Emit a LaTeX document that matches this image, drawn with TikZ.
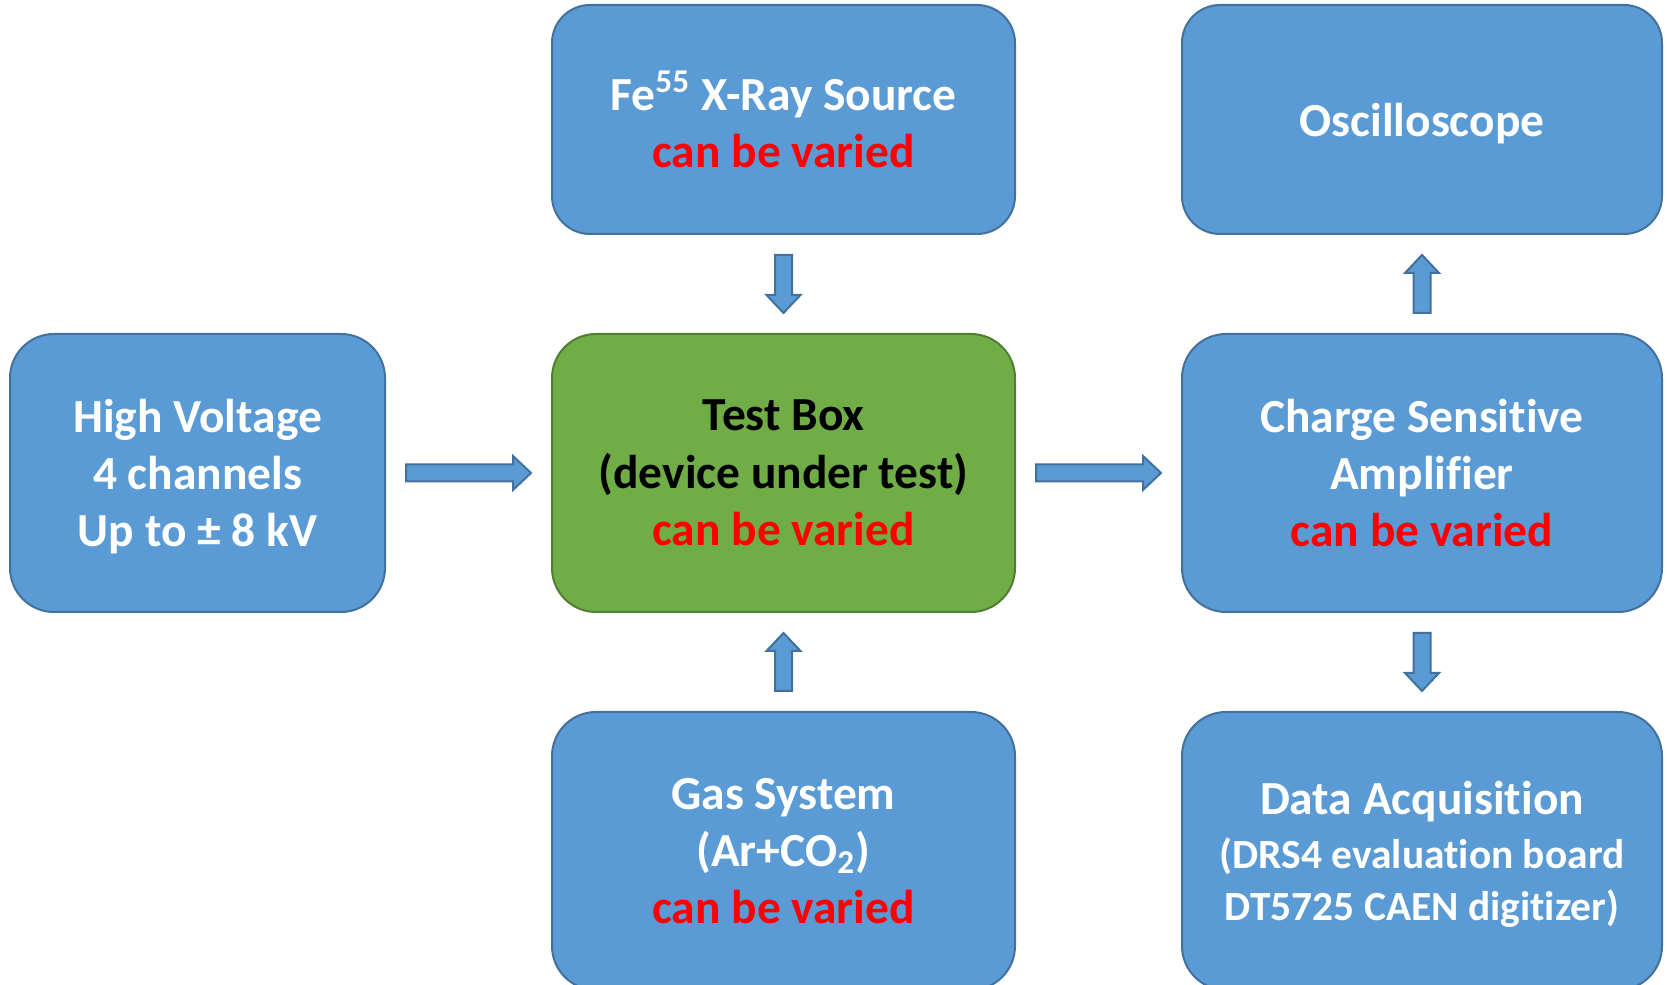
\documentclass[tikz,border=0pt]{standalone}
\usepackage{fontspec}
\setmainfont{Carlito}[Ligatures=NoCommon]
\usetikzlibrary{positioning,calc}

\definecolor{boxblue}{HTML}{5B9BD5}
\definecolor{boxline}{HTML}{41719C}
\definecolor{boxgreen}{HTML}{70AD47}
\definecolor{greenline}{HTML}{507E32}
\definecolor{vary}{HTML}{FF0000}

\tikzset{
  unit/.style={rectangle,draw=boxline,fill=boxblue,line width=0.02cm,
    rounded corners=0.44cm,align=center,text=white,inner sep=2pt,
    font=\fontsize{13.5}{16.3}\selectfont\bfseries,
    minimum width=4.63cm,minimum height=2.78cm},
  top unit/.style={unit,minimum height=2.29cm,rounded corners=0.38cm},
  dut/.style={unit,fill=boxgreen,draw=greenline,text=black},
  pipe/.style={draw=boxline,fill=boxblue,line width=0.02cm,line join=miter}
}

% block arrow between two nodes, kept 0.2cm off both
\newcommand{\blockarrow}[2]{%
  \path ($(#1)!0.2cm!(#2)$) coordinate (s)
        ($(#2)!0.2cm!(#1)$) coordinate (e)
        ($(e)!0.18cm!(s)$) coordinate (b);
  \draw[pipe] ($(s)!0.085cm!90:(e)$) -- ($(b)!0.085cm!90:(e)$)
    -- ($(b)!0.17cm!90:(e)$) -- (e) -- ($(b)!0.17cm!-90:(e)$)
    -- ($(b)!0.085cm!-90:(e)$) -- ($(s)!0.085cm!-90:(e)$) -- cycle;}

\newcommand{\varied}{\textcolor{vary}{can be varied}}
\newcommand{\smalltext}{\fontsize{11.8}{13.6}\selectfont}

\begin{document}
\begin{tikzpicture}[node distance=0.98cm and 1.65cm]
  \useasboundingbox (0,0) rectangle (16.67,-9.85);
  \clip (0,0) rectangle (16.67,-9.85);

  \node[dut] (test) at (7.835,-4.73) {Test Box\\(device under test)\\\varied};
  \node[unit,minimum width=3.75cm,left=of test,text depth=0pt] (hv) {High Voltage\\4 channels\\Up to \char"00B1{} 8 kV};
  \node[unit,minimum width=4.80cm,right=of test] (csa) {Charge Sensitive\\Amplifier\\\varied};
  \node[top unit,above=of test] (src) {Fe\textsuperscript{55} X-Ray Source\\\varied};
  \node[top unit,minimum width=4.80cm,above=of csa,text depth=0pt] (scope) {Oscilloscope};
  \node[unit,below=of test] (gas) {Gas System\\(Ar+CO\textsubscript{2})\\\varied};
  \node[unit,minimum width=4.80cm,below=of csa,text depth=0pt] (daq) {Data Acquisition\\[-1pt]%
    \smalltext(DRS4 evaluation board\\[-1.5pt]\smalltext DT5725 CAEN digitizer)};

  \blockarrow{hv.east}{test.west}
  \blockarrow{src.south}{test.north}
  \blockarrow{gas.north}{test.south}
  \blockarrow{test.east}{csa.west}
  \blockarrow{csa.north}{scope.south}
  \blockarrow{csa.south}{daq.north}
\end{tikzpicture}
\end{document}
